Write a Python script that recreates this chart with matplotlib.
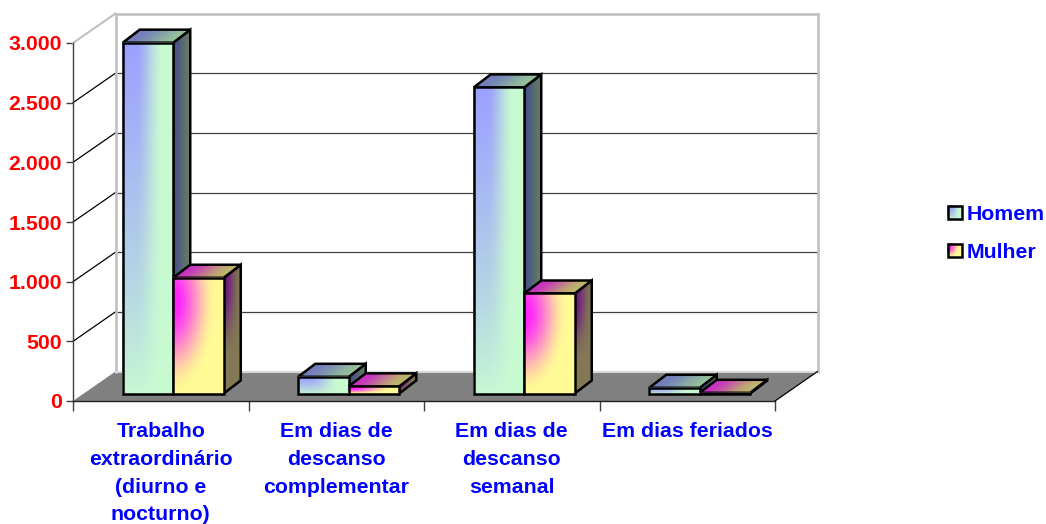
import numpy as np
import matplotlib
matplotlib.use("Agg")
import matplotlib.pyplot as plt
from matplotlib.patches import Polygon

plt.rcParams["font.family"] = ["Liberation Sans", "DejaVu Sans"]
plt.rcParams["font.weight"] = "bold"

# ----------------------
# data
# ----------------------
categories = [
    "Trabalho\nextraordinário\n(diurno e\nnocturno)",
    "Em dias de\ndescanso\ncomplementar",
    "Em dias de\ndescanso\nsemanal",
    "Em dias feriados",
]
homem = [2940, 140, 2565, 48]
mulher = [970, 60, 838, 6]
y_ticks = [0, 500, 1000, 1500, 2000, 2500, 3000]
y_labels = ["0", "500", "1.000", "1.500", "2.000", "2.500", "3.000"]
series_names = ["Homem", "Mulher"]

# ----------------------
# fake 3d geometry, in axis units
# ----------------------
W, H = 1046, 524
px_x = 702 / 4      # pixels per category
px_y = 358 / 3000   # pixels per value
depth_x = 42.5 / px_x
depth_y = 29.5 / px_y
bar_w = 50.5 / px_x
bar_shift_x = 12.5 / px_x   # bars stand a bit behind the front edge
bar_shift_y = 7.5 / px_y
bar_dx = 17 / px_x
bar_dy = 13 / px_y
font_size = 15.3
outline = 1.8


def c(r, g, b):
    return np.array([r, g, b]) / 255


def smooth(t):
    t = np.clip(t, 0, 1)
    return t * t * (3 - 2 * t)


# colour functions, u goes left to right and v bottom to top
def homem_front(u, v):
    w = (1 - smooth((u - 0.25) / 0.55)) * v ** 0.8
    return c(200, 250, 210) + (c(155, 160, 255) - c(200, 250, 210)) * w[..., None]


def mulher_front(u, v):
    # magenta high on the left edge, fading outward to yellow
    d = np.sqrt((u / 0.85) ** 2 + ((v - 0.8) / 0.8) ** 2)
    w = 1 - smooth(d)
    return c(255, 250, 150) + (c(255, 30, 255) - c(255, 250, 150)) * w[..., None]


def homem_side(u, v):
    t = smooth(u)
    return c(72, 82, 140) + (c(100, 122, 100) - c(72, 82, 140)) * t[..., None]


def mulher_side(u, v):
    w = (1 - smooth(u)) * smooth((v - 0.3) / 0.6)
    return c(130, 120, 85) + (c(110, 20, 135) - c(130, 120, 85)) * w[..., None]


def homem_top(u, v):
    t = smooth(u)
    return c(115, 125, 190) + (c(150, 195, 155) - c(115, 125, 190)) * t[..., None]


def mulher_top(u, v):
    t = smooth(u / 0.9)
    return c(200, 50, 195) + (c(190, 180, 110) - c(200, 50, 195)) * t[..., None]


def face(axis, p0, p1, p3, color_fn, z):
    # parallelogram: p0 lower left, p1 lower right, p3 upper left
    p0, p1, p3 = np.array(p0), np.array(p1), np.array(p3)
    u, v = np.meshgrid(np.linspace(0, 1, 40), np.linspace(0, 1, 40))
    x = p0[0] + (p1[0] - p0[0]) * u + (p3[0] - p0[0]) * v
    y = p0[1] + (p1[1] - p0[1]) * u + (p3[1] - p0[1]) * v
    axis.pcolormesh(x, y, np.clip(color_fn(u, v), 0, 1), shading="gouraud",
                    clip_on=False, zorder=z)
    corners = [p0, p1, p1 + p3 - p0, p3]
    axis.add_patch(Polygon(corners, closed=True, fill=False, edgecolor="black",
                           linewidth=outline, joinstyle="miter", clip_on=False, zorder=z + 0.1))


def bar3d(axis, left, value, front_fn, side_fn, top_fn, z):
    x0 = left
    x1 = left + bar_w
    y0 = bar_shift_y
    y1 = bar_shift_y + value
    face(axis, (x1, y0), (x1 + bar_dx, y0 + bar_dy), (x1, y1), side_fn, z)
    face(axis, (x0, y1), (x1, y1), (x0 + bar_dx, y1 + bar_dy), top_fn, z + 0.2)
    face(axis, (x0, y0), (x1, y0), (x0, y1), front_fn, z + 0.4)


# ----------------------
# figure
# ----------------------
fig = plt.figure(figsize=(W / 100, H / 100), dpi=100)
fig.patch.set_facecolor("white")
ax = fig.add_axes([73 / W, (H - 401) / H, 702 / W, 358 / H])
ax.patch.set_visible(False)

# floor
ax.add_patch(Polygon([(0, 0), (4, 0), (4 + depth_x, depth_y), (depth_x, depth_y)],
                     closed=True, facecolor="#808080", edgecolor="none",
                     clip_on=False, zorder=1))
ax.plot([4, 4 + depth_x], [0, depth_y], color="black", lw=0.9, clip_on=False, zorder=2)

# gridlines on the walls
for t in y_ticks[1:-1]:
    ax.plot([depth_x, 4 + depth_x], [t + depth_y, t + depth_y], color="#404040",
            lw=0.9, clip_on=False, zorder=1.5)
    ax.plot([0, depth_x], [t, t + depth_y], color="black", lw=0.9, clip_on=False, zorder=1.5)

# wall frame
top = 3000 + depth_y
ax.plot([depth_x, depth_x, 4 + depth_x, 4 + depth_x], [depth_y, top, top, depth_y],
        color="#c0c0c0", lw=1.9, clip_on=False, zorder=1.6, solid_joinstyle="miter")
ax.plot([depth_x, 4 + depth_x], [depth_y, depth_y], color="#d8d8d8", lw=1.5,
        clip_on=False, zorder=1.6)
ax.plot([0, depth_x], [3000, top], color="#c0c0c0", lw=1.5, clip_on=False, zorder=1.6)

# bars
for i in range(len(categories)):
    centre = i + 0.5 + bar_shift_x
    bar3d(ax, centre - bar_w, homem[i], homem_front, homem_side, homem_top, 3 + i)
    bar3d(ax, centre, mulher[i], mulher_front, mulher_side, mulher_top, 3.5 + i)

# axes, ticks and labels
ax.set_xlim(0, 4)
ax.set_ylim(0, 3000)
for s in ["top", "right"]:
    ax.spines[s].set_visible(False)
ax.spines["left"].set_color("#404040")
ax.spines["bottom"].set_color("#202020")
ax.spines["left"].set_linewidth(1.0)
ax.spines["bottom"].set_linewidth(1.0)
ax.set_yticks(y_ticks)
ax.set_yticklabels(y_labels, color="#ff0000", fontsize=font_size, fontweight="bold")
ax.tick_params(axis="y", length=5, width=1, color="#404040", pad=3)
ax.set_xticks(range(5))
ax.set_xticklabels([])
ax.tick_params(axis="x", length=7, width=1, color="#404040")
ax.set_xticks(np.arange(len(categories)) + 0.5, minor=True)
ax.set_xticklabels(categories, minor=True, color="#0000ff", fontsize=font_size,
                   fontweight="bold", linespacing=1.59, va="top")
ax.tick_params(axis="x", which="minor", length=0, pad=15)

# legend, drawn in pixel coordinates
leg = fig.add_axes([0, 0, 1, 1])
leg.set_xlim(0, W)
leg.set_ylim(H, 0)
leg.axis("off")
face(leg, (948, 219), (962, 219), (948, 206), homem_front, 2)
face(leg, (948, 257), (962, 257), (948, 244), mulher_front, 2)
for name, ypos in zip(series_names, [215, 252]):
    leg.text(967, ypos, name, color="#0000ff", fontsize=font_size, fontweight="bold",
             ha="left", va="center")

fig.savefig("out.png", dpi=100)
